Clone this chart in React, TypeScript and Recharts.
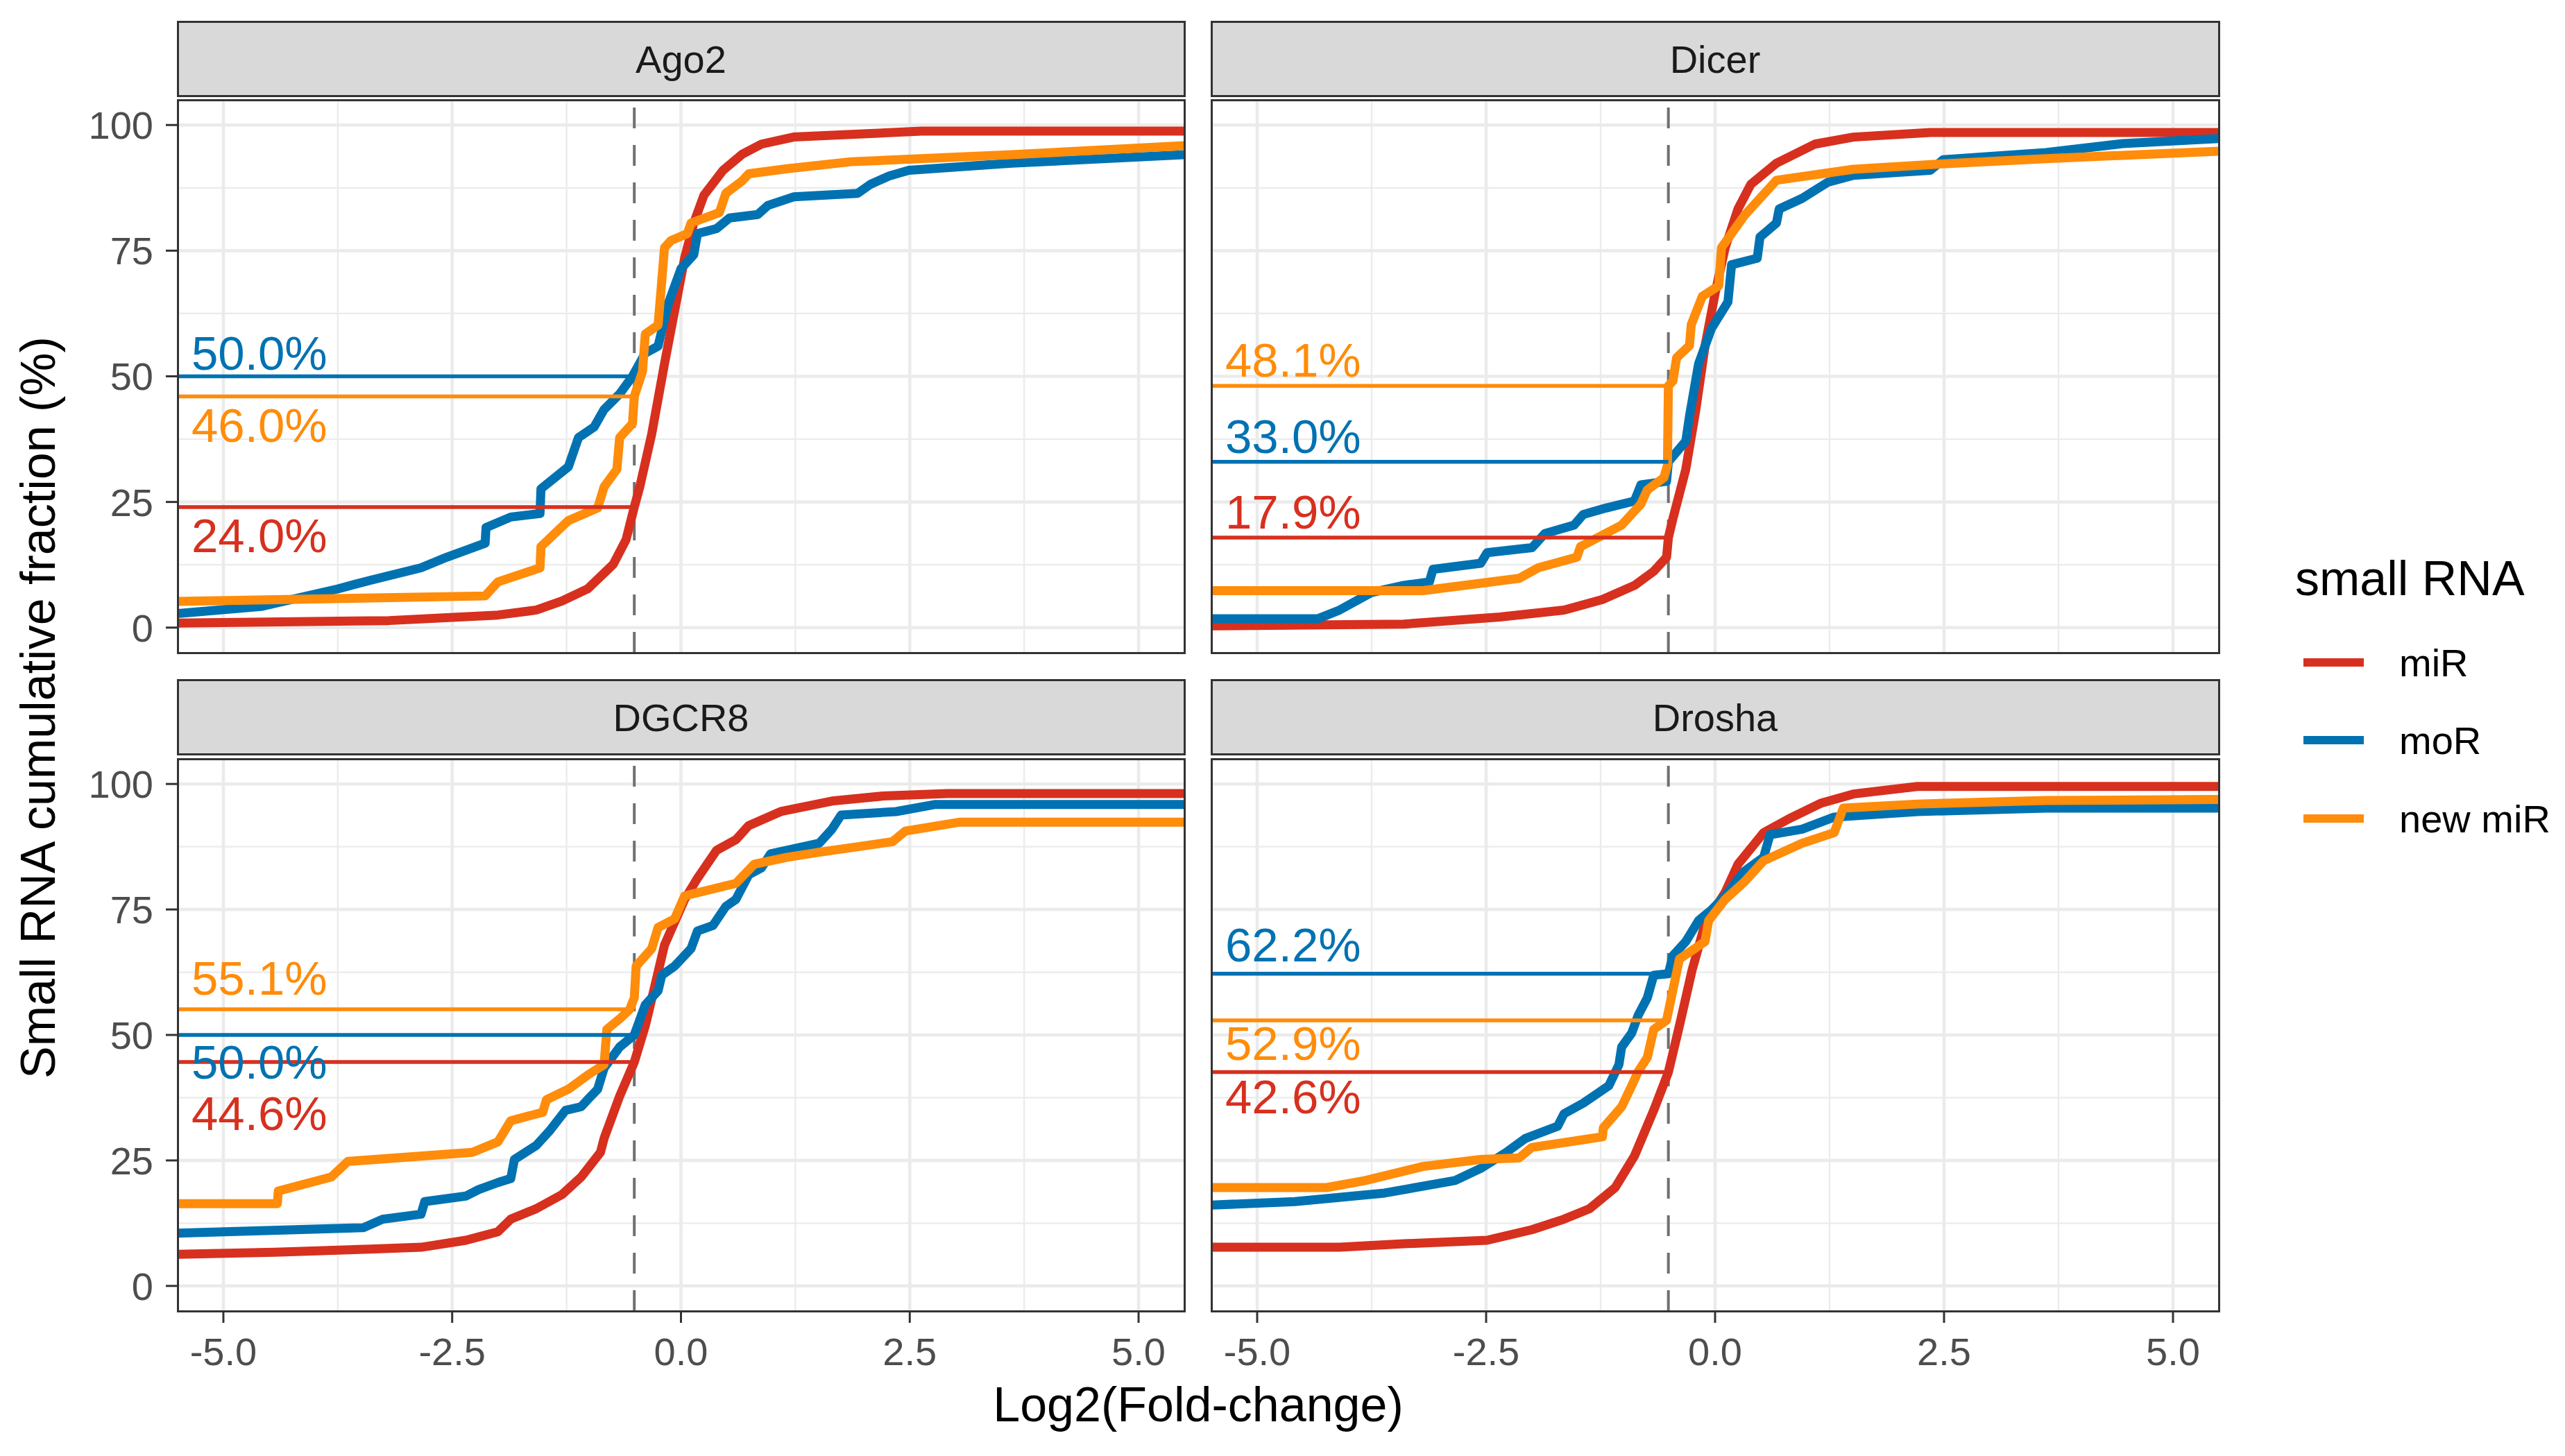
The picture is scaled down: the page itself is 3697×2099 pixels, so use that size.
import { CartesianGrid, ComposedChart, Line, ReferenceLine, Scatter, XAxis, YAxis } from "recharts";

// facets and groups
const facets = ["Ago2", "Dicer", "DGCR8", "Drosha"];
const rnaTypes = ["miR", "moR", "new miR"];

const FC_CUTOFF = -0.51;
const xTicks = [-5, -2.5, 0, 2.5, 5];
const xMinor = [-3.75, -1.25, 1.25, 3.75];
const yTicks = [0, 25, 50, 75, 100];
const yMinor = [12.5, 37.5, 62.5, 87.5];

// cumulative % at the cutoff, same order as rnaTypes
const ago2Pct = [24.0, 50.0, 46.0];
const dicerPct = [17.9, 33.0, 48.1];
const dgcr8Pct = [44.6, 50.0, 55.1];
const droshaPct = [42.6, 62.2, 52.9];

// ECDF curves: [log2 fold-change, cumulative %]
const ago2MiR = [
  [-5.5, 0.9], [-3.19, 1.4], [-2.0, 2.5], [-1.58, 3.5], [-1.3, 5.3], [-1.02, 7.7], [-0.74, 12.6],
  [-0.6, 17.5], [-0.51, 24], [-0.45, 28], [-0.32, 38.5], [-0.18, 52.5], [-0.07, 63], [0.04, 73.5],
  [0.14, 80.5], [0.25, 86], [0.46, 91], [0.67, 94.2], [0.88, 96.2], [1.23, 97.6], [2.07, 98.3],
  [2.63, 98.8], [5.5, 98.8],
];
const ago2MoR = [
  [-5.5, 2.8], [-4.59, 4.2], [-3.75, 7.7], [-3.4, 9.4], [-2.84, 11.9], [-2.56, 14], [-2.14, 16.8],
  [-2.13, 19.9], [-1.86, 22], [-1.54, 22.7], [-1.53, 27.6], [-1.23, 32], [-1.12, 37.8], [-0.95, 39.9],
  [-0.84, 43.4], [-0.67, 46.5], [-0.53, 50], [-0.39, 54.6], [-0.25, 56], [-0.14, 64.4], [0.0, 71.4],
  [0.14, 74.2], [0.18, 78.4], [0.39, 79.4], [0.53, 81.5], [0.84, 82.2], [0.95, 84], [1.23, 85.7],
  [1.93, 86.4], [2.07, 88.2], [2.28, 89.9], [2.49, 91], [3.61, 92.4], [5.5, 94.1],
];
const ago2New = [
  [-5.5, 5.2], [-2.14, 6.3], [-2.0, 9.1], [-1.54, 11.9], [-1.53, 16.1], [-1.23, 21.3], [-0.91, 23.8],
  [-0.84, 28], [-0.7, 31.5], [-0.67, 37.8], [-0.53, 40.6], [-0.51, 46], [-0.42, 51], [-0.39, 58.4],
  [-0.25, 60.2], [-0.18, 75.6], [-0.11, 77], [0.07, 78.4], [0.11, 80.5], [0.42, 82.6], [0.49, 86.4],
  [0.67, 88.9], [0.74, 90.3], [1.16, 91.3], [1.86, 92.7], [3.61, 94.1], [5.5, 95.9],
];

const dicerMiR = [
  [-5.5, 0.35], [-3.4, 0.7], [-2.35, 2.1], [-1.65, 3.5], [-1.23, 5.6], [-0.88, 8.4], [-0.67, 11.2],
  [-0.53, 14], [-0.51, 17.9], [-0.46, 21.7], [-0.32, 31.5], [-0.21, 43.4], [-0.11, 56], [0.0, 66.5],
  [0.11, 75.6], [0.25, 83.3], [0.39, 88.2], [0.67, 92.4], [1.09, 96.2], [1.51, 97.6], [2.35, 98.5],
  [5.5, 98.5],
];
const dicerMoR = [
  [-5.5, 1.75], [-4.34, 1.75], [-4.1, 3.5], [-3.75, 7], [-3.4, 8.4], [-3.12, 9.1], [-3.08, 11.6],
  [-2.56, 12.8], [-2.49, 14.9], [-2.0, 15.9], [-1.86, 18.7], [-1.54, 20.4], [-1.44, 22.5], [-1.19, 23.8],
  [-0.88, 25.2], [-0.81, 28.4], [-0.53, 29.1], [-0.51, 33], [-0.32, 37.1], [-0.28, 42], [-0.18, 52.5],
  [-0.04, 59.5], [0.14, 64.8], [0.18, 72.2], [0.46, 73.5], [0.49, 77.7], [0.67, 80.5], [0.7, 83.3],
  [0.95, 85.4], [1.23, 88.6], [1.51, 90], [2.35, 91], [2.49, 93.1], [3.61, 94.5], [4.45, 96.3],
  [5.5, 97.3],
];
const dicerNew = [
  [-5.5, 7.35], [-3.19, 7.35], [-2.14, 9.8], [-1.93, 11.9], [-1.51, 14], [-1.47, 16.1], [-1.02, 20.4],
  [-0.81, 24.6], [-0.74, 27.4], [-0.56, 29.8], [-0.52, 32.3], [-0.51, 48.1], [-0.46, 49.1], [-0.42, 53.7],
  [-0.28, 56.1], [-0.26, 60.3], [-0.14, 65.9], [0.04, 68], [0.07, 75.6], [0.32, 82], [0.67, 89],
  [1.51, 91.2], [2.42, 92.2], [3.61, 93.3], [5.5, 94.8],
];

const dgcr8MiR = [
  [-5.5, 6.3], [-4.44, 6.7], [-3.4, 7.35], [-2.84, 7.7], [-2.35, 9.1], [-2.0, 10.8], [-1.86, 13.3],
  [-1.58, 15.4], [-1.3, 18.2], [-1.09, 21.7], [-0.88, 26.6], [-0.84, 29.4], [-0.67, 37.8], [-0.51, 44.6],
  [-0.39, 51.8], [-0.28, 60.2], [-0.18, 67.9], [0.04, 77], [0.18, 81.2], [0.39, 86.8], [0.6, 88.9],
  [0.74, 91.7], [1.09, 94.5], [1.65, 96.6], [2.21, 97.6], [2.91, 98.1], [5.5, 98.1],
];
const dgcr8MoR = [
  [-5.5, 10.5], [-3.47, 11.6], [-3.26, 13.3], [-2.84, 14.3], [-2.8, 16.8], [-2.35, 17.9], [-2.21, 19.2],
  [-2.0, 20.6], [-1.86, 21.4], [-1.82, 25.2], [-1.58, 28], [-1.44, 30.8], [-1.26, 35], [-1.09, 35.7],
  [-1.02, 37.1], [-0.91, 39.2], [-0.84, 43.4], [-0.67, 47.6], [-0.51, 50], [-0.39, 56], [-0.25, 58.8],
  [-0.21, 61.9], [-0.07, 63.7], [0.11, 67.2], [0.18, 70.7], [0.35, 71.8], [0.49, 75.6], [0.6, 77],
  [0.74, 81.9], [0.88, 83.3], [0.98, 86.1], [1.51, 88.2], [1.65, 91], [1.75, 93.8], [2.35, 94.5],
  [2.77, 95.9], [5.5, 95.9],
];
const dgcr8New = [
  [-5.5, 16.4], [-4.41, 16.4], [-4.4, 18.9], [-3.82, 21.7], [-3.64, 24.8], [-2.28, 26.6], [-2.0, 28.7],
  [-1.86, 32.9], [-1.51, 34.6], [-1.47, 37.1], [-1.23, 39.2], [-1.02, 42], [-0.84, 44.1], [-0.81, 51.1],
  [-0.67, 53.2], [-0.56, 55.1], [-0.51, 57.4], [-0.49, 63.7], [-0.32, 67.2], [-0.25, 71.4], [-0.07, 73.1],
  [0.04, 77.7], [0.6, 80.2], [0.8, 84], [1.16, 85.4], [1.51, 86.4], [2.31, 88.5], [2.45, 90.6],
  [3.05, 92.4], [5.5, 92.4],
];

const droshaMiR = [
  [-5.5, 7.7], [-4.1, 7.7], [-3.4, 8.4], [-2.49, 9.1], [-2.0, 11.2], [-1.65, 13.3], [-1.37, 15.4],
  [-1.09, 19.6], [-0.88, 25.9], [-0.67, 35], [-0.51, 42.6], [-0.39, 51.8], [-0.25, 63], [-0.11, 72.1],
  [0.11, 78.4], [0.25, 84], [0.53, 90.3], [0.81, 93.1], [1.16, 96.2], [1.51, 98], [2.21, 99.5],
  [5.5, 99.5],
];
const droshaMoR = [
  [-5.5, 16.1], [-4.59, 16.8], [-3.61, 18.5], [-2.84, 21], [-2.56, 23.4], [-2.28, 26.6], [-2.07, 29.4],
  [-1.72, 31.8], [-1.65, 34.3], [-1.44, 36.4], [-1.16, 39.9], [-1.05, 44.1], [-1.02, 47.6], [-0.91, 50.4],
  [-0.84, 53.9], [-0.74, 57.4], [-0.67, 61.9], [-0.51, 62.2], [-0.46, 65.8], [-0.32, 68.6], [-0.18, 72.8],
  [-0.04, 74.9], [0.11, 77.7], [0.32, 82.6], [0.53, 85.4], [0.6, 89.9], [0.95, 91], [1.3, 93.4],
  [2.21, 94.5], [3.61, 95.2], [5.5, 95.2],
];
const droshaNew = [
  [-5.5, 19.6], [-4.24, 19.6], [-3.82, 21], [-3.19, 23.8], [-2.56, 25.2], [-2.14, 25.5], [-2.0, 27.6],
  [-1.23, 29.7], [-1.22, 31.5], [-1.02, 35.7], [-0.91, 39.9], [-0.84, 42.7], [-0.74, 45.5], [-0.67, 51.1],
  [-0.53, 52.9], [-0.39, 65.1], [-0.11, 68.6], [-0.07, 72.8], [0.11, 77], [0.32, 80.5], [0.53, 84.7],
  [0.95, 88.2], [1.3, 90.3], [1.4, 95.2], [2.21, 96], [3.61, 96.7], [5.5, 96.9],
];

const curvesByFacet = [
  [ago2MiR, ago2MoR, ago2New],
  [dicerMiR, dicerMoR, dicerNew],
  [dgcr8MiR, dgcr8MoR, dgcr8New],
  [droshaMiR, droshaMoR, droshaNew],
];
const pctByFacet = [ago2Pct, dicerPct, dgcr8Pct, droshaPct];

// styling / layout
const COLORS = ["#D7301F", "#0072B2", "#FF8C0A"];
const FONT = "'Liberation Sans', Arial, Helvetica, sans-serif";
// label baseline offset (px) from its reference line
const LABEL_DY = [
  [65, -10, 66],
  [-13, -13, -13],
  [98, 63, -21],
  [59, -18, 57],
];
const PLOT_LEFT = [256, 1746];
const PLOT_W = [1451, 1452];
const PLOT_TOP = [144, 1094];
const PLOT_H = [797, 796];
const STRIP_TOP = [30, 979];
const STRIP_H = 110;
const Y_AXIS_W = 256;
const X_AXIS_H = 110;

const toPts = (arr: number[][]) => arr.map(([x, y]) => ({ x, y }));

function PctLabel(props: any) {
  const { cx, cy, payload } = props;
  if (cx == null || cy == null) return null;
  return (
    <text x={cx + 20} y={cy + payload.dy} fill={payload.color} fontSize={69} fontFamily={FONT}>
      {payload.text}
    </text>
  );
}

function Panel({ idx }: { idx: number }) {
  const col = idx % 2;
  const row = Math.floor(idx / 2);
  const showY = col === 0;
  const showX = row === 1;
  const w = PLOT_W[col] + (showY ? Y_AXIS_W : 0);
  const h = PLOT_H[row] + (showX ? X_AXIS_H : 0);
  const pct = pctByFacet[idx];
  const labels = pct.map((p, i) => ({
    x: -5.5,
    y: p,
    text: `${p.toFixed(1)}%`,
    color: COLORS[i],
    dy: LABEL_DY[idx][i],
  }));

  return (
    <>
      <div
        style={{
          position: "absolute",
          left: PLOT_LEFT[col] - 1.5,
          top: STRIP_TOP[row],
          width: PLOT_W[col] + 3,
          height: STRIP_H,
          boxSizing: "border-box",
          background: "#D9D9D9",
          border: "3px solid #333333",
          display: "flex",
          alignItems: "center",
          justifyContent: "center",
          fontFamily: FONT,
          fontSize: 56,
          color: "#1A1A1A",
        }}
      >
        {facets[idx]}
      </div>
      <div style={{ position: "absolute", left: PLOT_LEFT[col] - (showY ? Y_AXIS_W : 0), top: PLOT_TOP[row] }}>
        <ComposedChart width={w} height={h} margin={{ top: 0, right: 0, bottom: 0, left: 0 }}>
          <CartesianGrid horizontalValues={yMinor} verticalValues={xMinor} stroke="#EBEBEB" strokeWidth={2.3} />
          <CartesianGrid horizontalValues={yTicks} verticalValues={xTicks} stroke="#EBEBEB" strokeWidth={4.6} />
          <XAxis
            type="number"
            dataKey="x"
            domain={[-5.5, 5.5]}
            ticks={xTicks}
            allowDataOverflow
            hide={!showX}
            height={X_AXIS_H}
            axisLine={false}
            tickLine={{ stroke: "#333333", strokeWidth: 3 }}
            tickSize={17}
            tickMargin={21}
            tickFormatter={(v: number) => v.toFixed(1)}
            tick={{ fontSize: 56, fill: "#4D4D4D", fontFamily: FONT }}
          />
          <YAxis
            type="number"
            dataKey="y"
            domain={[-5, 105]}
            ticks={yTicks}
            allowDataOverflow
            hide={!showY}
            width={Y_AXIS_W}
            axisLine={false}
            tickLine={{ stroke: "#333333", strokeWidth: 3 }}
            tickSize={17}
            tickMargin={18}
            tick={{ fontSize: 56, fill: "#4D4D4D", fontFamily: FONT }}
          />
          <ReferenceLine x={FC_CUTOFF} stroke="#707070" strokeWidth={4} strokeDasharray="30 24" />
          {curvesByFacet[idx].map((c, i) => (
            <Line
              key={rnaTypes[i]}
              data={toPts(c)}
              dataKey="y"
              type="linear"
              stroke={COLORS[i]}
              strokeWidth={13}
              strokeLinejoin="round"
              dot={false}
              activeDot={false}
              isAnimationActive={false}
            />
          ))}
          {pct.map((p, i) => (
            <ReferenceLine
              key={`seg-${i}`}
              segment={[
                { x: -5.5, y: p },
                { x: FC_CUTOFF, y: p },
              ]}
              stroke={COLORS[i]}
              strokeWidth={5.5}
            />
          ))}
          <Scatter data={labels} dataKey="y" shape={PctLabel} isAnimationActive={false} />
        </ComposedChart>
      </div>
      <div
        style={{
          position: "absolute",
          left: PLOT_LEFT[col] - 1.5,
          top: PLOT_TOP[row] - 1.5,
          width: PLOT_W[col] + 3,
          height: PLOT_H[row] + 3,
          boxSizing: "border-box",
          border: "3px solid #333333",
          pointerEvents: "none",
        }}
      />
    </>
  );
}

export default function App() {
  const legendY = [955, 1067, 1180];
  return (
    <div style={{ position: "absolute", left: 0, top: 0, width: 3697, height: 2099, background: "#FFFFFF", overflow: "hidden" }}>
      <svg width={3697} height={2099} style={{ position: "absolute", left: 0, top: 0 }}>
        <text
          transform="translate(79,1020) rotate(-90)"
          textAnchor="middle"
          fontSize={70}
          fontFamily={FONT}
          fill="#000"
        >
          Small RNA cumulative fraction (%)
        </text>
        <text x={1727} y={2049} textAnchor="middle" fontSize={70} fontFamily={FONT} fill="#000">
          Log2(Fold-change)
        </text>
        <text x={3308} y={858} fontSize={70} fontFamily={FONT} fill="#000">
          small RNA
        </text>
        {rnaTypes.map((t, i) => (
          <g key={t}>
            <line x1={3320} x2={3407} y1={legendY[i]} y2={legendY[i]} stroke={COLORS[i]} strokeWidth={12} />
            <text x={3458} y={legendY[i] + 20} fontSize={56} fontFamily={FONT} fill="#000">
              {t}
            </text>
          </g>
        ))}
      </svg>
      {facets.map((f, i) => (
        <Panel key={f} idx={i} />
      ))}
    </div>
  );
}
